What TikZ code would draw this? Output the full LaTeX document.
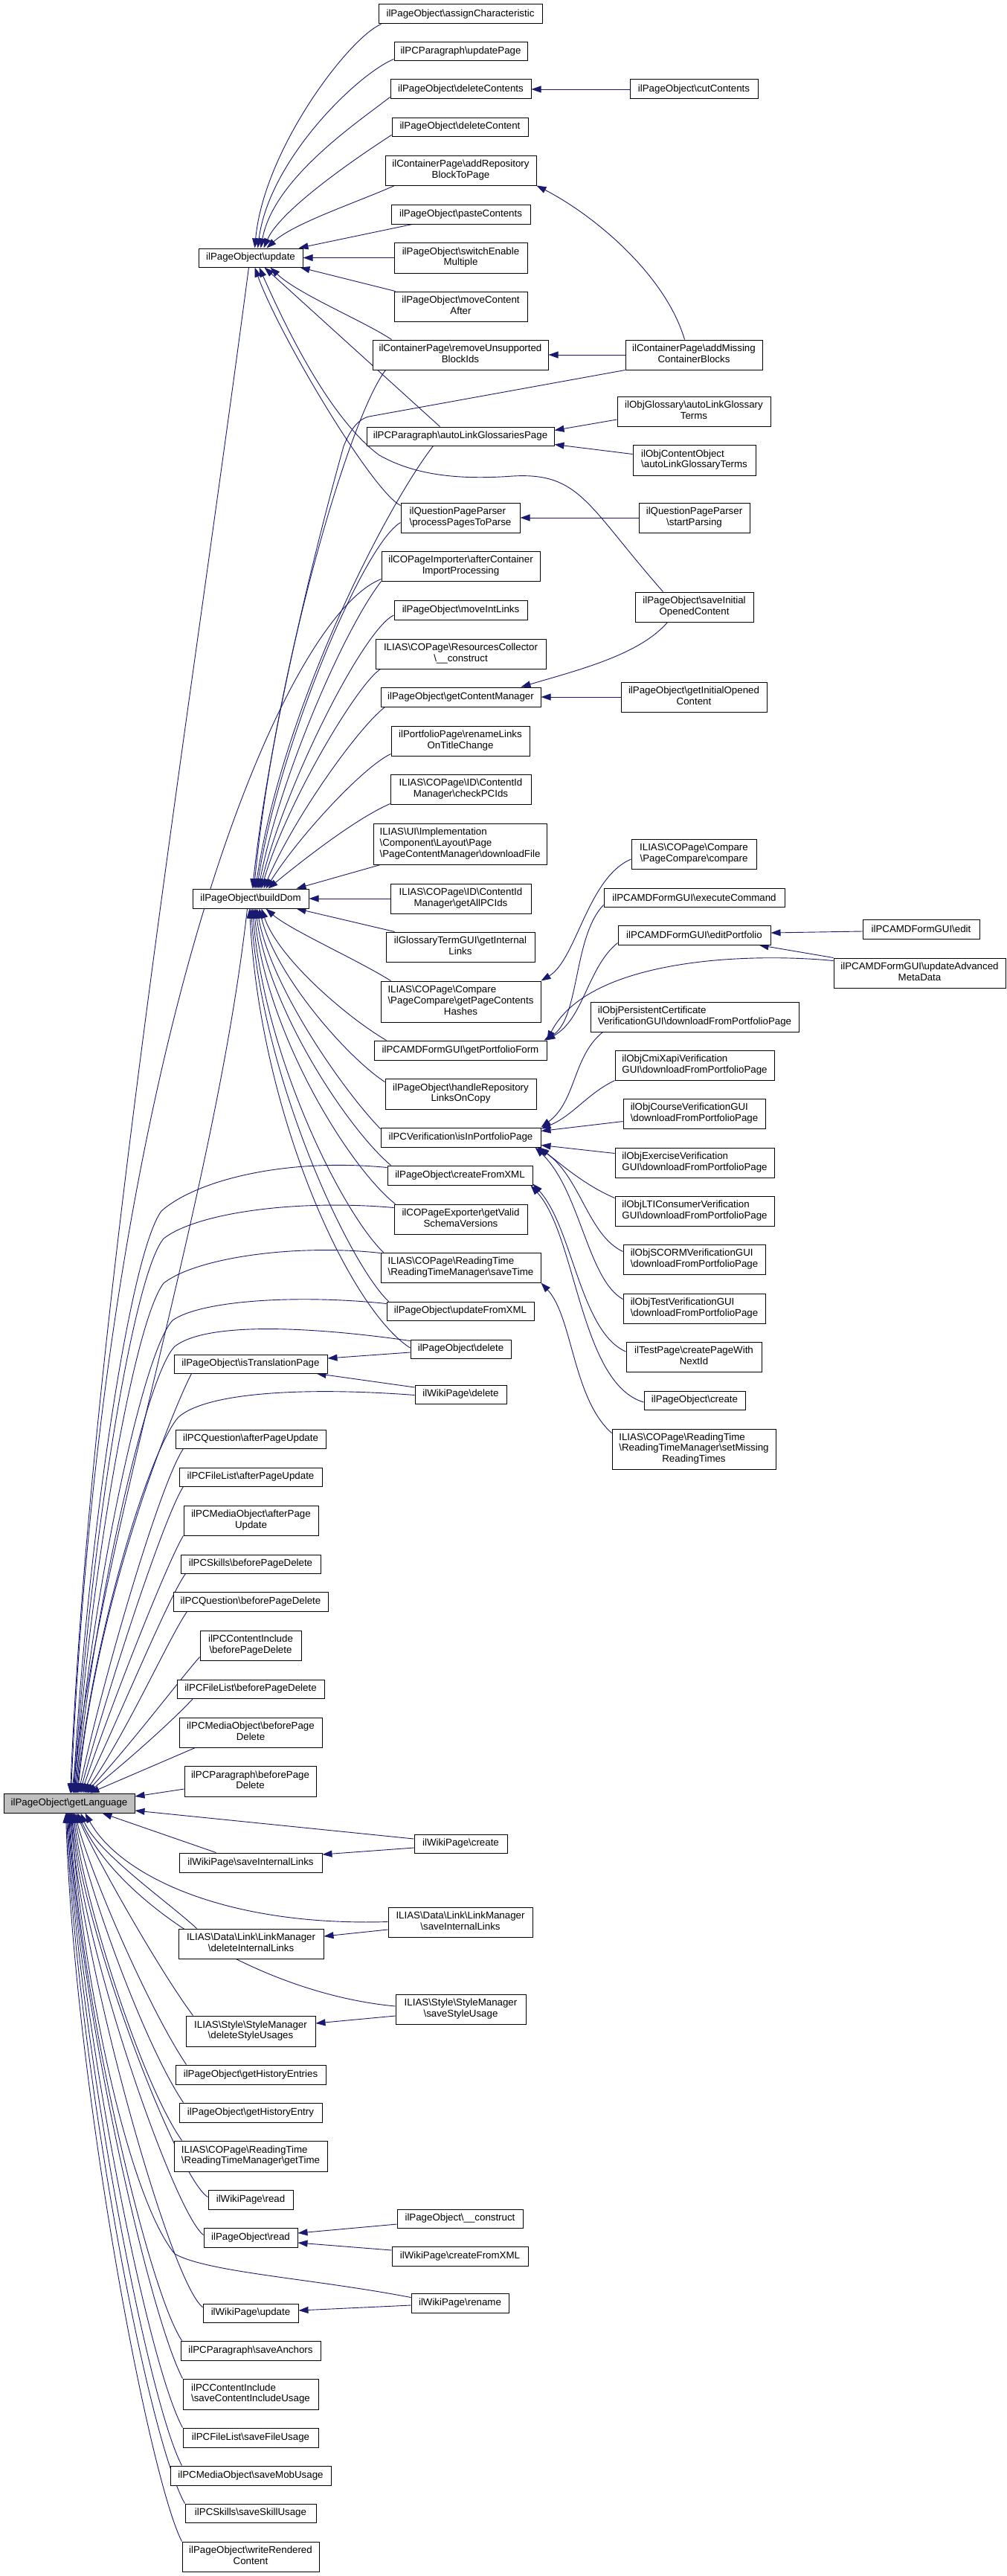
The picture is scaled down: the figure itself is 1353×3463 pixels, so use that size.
\documentclass[tikz,border=0pt]{standalone}
\usepackage{fontspec}
\setmainfont{Liberation Sans}
\usetikzlibrary{arrows.meta}
\pgfdeclarelayer{bg}
\pgfsetlayers{bg,main}
\definecolor{edgecol}{HTML}{191970}
\definecolor{rootfill}{HTML}{BFBFBF}
\newcommand\bsl{\textbackslash}
\newcommand\twol[2]{\begin{tabular}{@{}l@{}}#1\\\multicolumn{1}{@{}c@{}}{#2}\end{tabular}}
\newcommand\threel[3]{\begin{tabular}{@{}l@{}}#1\\#2\\\multicolumn{1}{@{}c@{}}{#3}\end{tabular}}
\newcommand\N[7][]{\node[box,#1,minimum width={#4-#3},minimum height={#6-#5}] (#2) at ({(#3+#4)/2},{(#5+#6)/2}) {#7};}
\tikzset{
  box/.style={draw=black,fill=white,line width=1pt,inner sep=0pt,font=\fontsize{13.3}{14.7}\selectfont},
  root/.style={fill=rootfill},
  e/.style={draw=edgecol,line width=0.9pt,-{Triangle[length=13pt,width=9pt]}}
}
\begin{document}
\begin{tikzpicture}[x=1pt,y=-1pt]
\begin{pgfonlayer}{bg}
\fill[white] (0,0) rectangle (1353,3463);
\end{pgfonlayer}
\useasboundingbox (0,0) rectangle (1353,3463);
\N{ac}{509}{729}{6}{32}{ilPageObject\bsl{}assignCharacteristic}
\N{pup}{530}{709}{57}{82}{ilPCParagraph\bsl{}updatePage}
\N{dcs}{525}{714}{107}{133}{ilPageObject\bsl{}deleteContents}
\N{cut}{847}{1019}{107}{133}{ilPageObject\bsl{}cutContents}
\N{dc}{527}{710}{158}{183}{ilPageObject\bsl{}deleteContent}
\N{arb}{518}{721}{209}{249}{\twol{ilContainerPage\bsl{}addRepository}{BlockToPage}}
\N{pc}{526}{713}{275}{301}{ilPageObject\bsl{}pasteContents}
\N{upd}{267}{407}{334}{359}{ilPageObject\bsl{}update}
\N{sem}{530}{709}{326}{367}{\twol{ilPageObject\bsl{}switchEnable}{Multiple}}
\N{mca}{530}{709}{392}{432}{\twol{ilPageObject\bsl{}moveContent}{After}}
\N{rub}{501}{737}{457}{497}{\twol{ilContainerPage\bsl{}removeUnsupported}{BlockIds}}
\N{amcb}{841}{1025}{457}{497}{\twol{ilContainerPage\bsl{}addMissing}{ContainerBlocks}}
\N{ogalt}{830}{1036}{533}{573}{\twol{ilObjGlossary\bsl{}autoLinkGlossary}{Terms}}
\N{algp}{493}{745}{574}{599}{ilPCParagraph\bsl{}autoLinkGlossariesPage}
\N{ocalt}{851}{1016}{598}{639}{\twol{ilObjContentObject}{\bsl{}autoLinkGlossaryTerms}}
\N{pptp}{539}{699}{676}{716}{\twol{ilQuestionPageParser}{\bsl{}processPagesToParse}}
\N{sp}{859}{1008}{676}{716}{\twol{ilQuestionPageParser}{\bsl{}startParsing}}
\N{acip}{513}{726}{741}{781}{\twol{ilCOPageImporter\bsl{}afterContainer}{ImportProcessing}}
\N{sioc}{854}{1013}{796}{836}{\twol{ilPageObject\bsl{}saveInitial}{OpenedContent}}
\N{mil}{530}{709}{807}{833}{ilPageObject\bsl{}moveIntLinks}
\N{rc}{505}{734}{859}{899}{\twol{ILIAS\bsl{}COPage\bsl{}ResourcesCollector}{\bsl{}\_\_construct}}
\N{gcm}{512}{727}{924}{950}{ilPageObject\bsl{}getContentManager}
\N{gioc}{835}{1031}{917}{957}{\twol{ilPageObject\bsl{}getInitialOpened}{Content}}
\N{rlot}{526}{712}{976}{1016}{\twol{ilPortfolioPage\bsl{}renameLinks}{OnTitleChange}}
\N{cpci}{525}{714}{1041}{1081}{\twol{ILIAS\bsl{}COPage\bsl{}ID\bsl{}ContentId}{Manager\bsl{}checkPCIds}}
\N{dlf}{502}{735}{1107}{1162}{\threel{ILIAS\bsl{}UI\bsl{}Implementation}{\bsl{}Component\bsl{}Layout\bsl{}Page}{\bsl{}PageContentManager\bsl{}downloadFile}}
\N{pcc}{849}{1017}{1128}{1168}{\twol{ILIAS\bsl{}COPage\bsl{}Compare}{\bsl{}PageCompare\bsl{}compare}}
\N{bdom}{259}{415}{1195}{1221}{ilPageObject\bsl{}buildDom}
\N{gail}{525}{714}{1188}{1228}{\twol{ILIAS\bsl{}COPage\bsl{}ID\bsl{}ContentId}{Manager\bsl{}getAllPCIds}}
\N{exc}{812}{1055}{1194}{1219}{ilPCAMDFormGUI\bsl{}executeCommand}
\N{aedit}{1160}{1317}{1236}{1262}{ilPCAMDFormGUI\bsl{}edit}
\N{edp}{831}{1036}{1244}{1270}{ilPCAMDFormGUI\bsl{}editPortfolio}
\N{gil}{519}{719}{1253}{1293}{\twol{ilGlossaryTermGUI\bsl{}getInternal}{Links}}
\N{uamd}{1121}{1352}{1288}{1328}{\twol{ilPCAMDFormGUI\bsl{}updateAdvanced}{MetaData}}
\N{gpch}{512}{727}{1319}{1374}{\threel{ILIAS\bsl{}COPage\bsl{}Compare}{\bsl{}PageCompare\bsl{}getPageContents}{Hashes}}
\N{opc}{794}{1074}{1347}{1387}{\twol{ilObjPersistentCertificate}{VerificationGUI\bsl{}downloadFromPortfolioPage}}
\N{gpf}{503}{735}{1399}{1425}{ilPCAMDFormGUI\bsl{}getPortfolioForm}
\N{ocx}{827}{1041}{1412}{1452}{\twol{ilObjCmiXapiVerification}{GUI\bsl{}downloadFromPortfolioPage}}
\N{hrl}{518}{721}{1450}{1491}{\twol{ilPageObject\bsl{}handleRepository}{LinksOnCopy}}
\N{ocv}{838}{1029}{1477}{1517}{\twol{ilObjCourseVerificationGUI}{\bsl{}downloadFromPortfolioPage}}
\N{iipp}{512}{727}{1516}{1542}{ilPCVerification\bsl{}isInPortfolioPage}
\N{oev}{827}{1041}{1543}{1583}{\twol{ilObjExerciseVerification}{GUI\bsl{}downloadFromPortfolioPage}}
\N{cfx}{521}{716}{1567}{1593}{ilPageObject\bsl{}createFromXML}
\N{olv}{827}{1041}{1608}{1648}{\twol{ilObjLTIConsumerVerification}{GUI\bsl{}downloadFromPortfolioPage}}
\N{gvsv}{530}{709}{1619}{1659}{\twol{ilCOPageExporter\bsl{}getValid}{SchemaVersions}}
\N{osv}{838}{1029}{1673}{1713}{\twol{ilObjSCORMVerificationGUI}{\bsl{}downloadFromPortfolioPage}}
\N{stime}{512}{727}{1684}{1724}{\twol{ILIAS\bsl{}COPage\bsl{}ReadingTime}{\bsl{}ReadingTimeManager\bsl{}saveTime}}
\N{otv}{838}{1029}{1739}{1779}{\twol{ilObjTestVerificationGUI}{\bsl{}downloadFromPortfolioPage}}
\N{ufx}{520}{718}{1750}{1775}{ilPageObject\bsl{}updateFromXML}
\N{pdel}{552}{687}{1801}{1826}{ilPageObject\bsl{}delete}
\N{tpn}{842}{1024}{1804}{1844}{\twol{ilTestPage\bsl{}createPageWith}{NextId}}
\N{istr}{234}{440}{1821}{1846}{ilPageObject\bsl{}isTranslationPage}
\N{wdel}{558}{681}{1862}{1887}{ilWikiPage\bsl{}delete}
\N{pcr}{866}{1002}{1870}{1895}{ilPageObject\bsl{}create}
\N{smrt}{823}{1043}{1921}{1975}{\threel{ILIAS\bsl{}COPage\bsl{}ReadingTime}{\bsl{}ReadingTimeManager\bsl{}setMissing}{ReadingTimes}}
\N{qapu}{236}{438}{1922}{1947}{ilPCQuestion\bsl{}afterPageUpdate}
\N{flapu}{241}{433}{1973}{1998}{ilPCFileList\bsl{}afterPageUpdate}
\N{mapu}{247}{428}{2024}{2064}{\twol{ilPCMediaObject\bsl{}afterPage}{Update}}
\N{sbpd}{243}{431}{2090}{2115}{ilPCSkills\bsl{}beforePageDelete}
\N{qbpd}{233}{441}{2140}{2166}{ilPCQuestion\bsl{}beforePageDelete}
\N{cibpd}{269}{405}{2192}{2232}{\twol{ilPCContentInclude}{\bsl{}beforePageDelete}}
\N{flbpd}{238}{436}{2258}{2283}{ilPCFileList\bsl{}beforePageDelete}
\N{mbpd}{241}{433}{2309}{2349}{\twol{ilPCMediaObject\bsl{}beforePage}{Delete}}
\N{pbpd}{248}{425}{2374}{2415}{\twol{ilPCParagraph\bsl{}beforePage}{Delete}}
\N[root]{lang}{5}{181}{2411}{2437}{ilPageObject\bsl{}getLanguage}
\N{wcr}{557}{682}{2466}{2491}{ilWikiPage\bsl{}create}
\N{wsil}{241}{433}{2491}{2517}{ilWikiPage\bsl{}saveInternalLinks}
\N{lsil}{522}{716}{2564}{2604}{\twol{ILIAS\bsl{}Data\bsl{}Link\bsl{}LinkManager}{\bsl{}saveInternalLinks}}
\N{ldil}{240}{435}{2593}{2633}{\twol{ILIAS\bsl{}Data\bsl{}Link\bsl{}LinkManager}{\bsl{}deleteInternalLinks}}
\N{ssu2}{532}{707}{2681}{2721}{\twol{ILIAS\bsl{}Style\bsl{}StyleManager}{\bsl{}saveStyleUsage}}
\N{sdsu}{250}{424}{2710}{2751}{\twol{ILIAS\bsl{}Style\bsl{}StyleManager}{\bsl{}deleteStyleUsages}}
\N{ghe}{236}{438}{2776}{2802}{ilPageObject\bsl{}getHistoryEntries}
\N{ghy}{241}{433}{2827}{2853}{ilPageObject\bsl{}getHistoryEntry}
\N{gtime}{234}{440}{2878}{2919}{\twol{ILIAS\bsl{}COPage\bsl{}ReadingTime}{\bsl{}ReadingTimeManager\bsl{}getTime}}
\N{wread}{280}{394}{2944}{2970}{ilWikiPage\bsl{}read}
\N{pcons}{534}{703}{2970}{2995}{ilPageObject\bsl{}\_\_construct}
\N{pread}{274}{400}{2995}{3021}{ilPageObject\bsl{}read}
\N{wcfx}{527}{710}{3020}{3046}{ilWikiPage\bsl{}createFromXML}
\N{wren}{553}{684}{3083}{3109}{ilWikiPage\bsl{}rename}
\N{wupd}{273}{401}{3097}{3122}{ilWikiPage\bsl{}update}
\N{sanch}{243}{431}{3147}{3173}{ilPCParagraph\bsl{}saveAnchors}
\N{sciu}{246}{428}{3198}{3239}{\twol{ilPCContentInclude}{\bsl{}saveContentIncludeUsage}}
\N{sfu}{246}{428}{3264}{3290}{ilPCFileList\bsl{}saveFileUsage}
\N{smu}{229}{445}{3315}{3341}{ilPCMediaObject\bsl{}saveMobUsage}
\N{ssu}{249}{425}{3366}{3391}{ilPCSkills\bsl{}saveSkillUsage}
\N{wrc}{245}{429}{3417}{3457}{\twol{ilPageObject\bsl{}writeRendered}{Content}}
\begin{pgfonlayer}{bg}
% --- callers of update
\draw[e] ([xshift=4pt]ac.south west) .. controls (470,50) and (355,200) .. ([xshift=76pt]upd.north west);
\draw[e] ([yshift=3pt]pup.south west) .. controls (480,100) and (362,215) .. ([xshift=80pt]upd.north west);
\draw[e] ([yshift=3pt]dcs.south west) .. controls (480,165) and (368,240) .. ([xshift=84pt]upd.north west);
\draw[e] ([yshift=2pt]dc.south west) .. controls (490,205) and (378,280) .. ([xshift=88pt]upd.north west);
\draw[e] ([xshift=13pt]arb.south west) .. controls (480,272) and (395,300) .. ([xshift=92pt]upd.north west);
\draw[e] ([xshift=29pt]pc.south west) -- ([xshift=-6pt]upd.north east);
\draw[e] (sem.west) -- (upd.east);
\draw[e] ([xshift=2pt]mca.north west) -- ([xshift=-4pt]upd.south east);
\draw[e] ([xshift=26pt]rub.north west) .. controls (490,432) and (400,395) .. ([xshift=97pt]upd.south west);
\draw[e] ([xshift=99pt]algp.north west) -- ([xshift=89pt]upd.south west);
\draw[e] ([yshift=-4pt]pptp.north west) .. controls (500,660) and (375,450) .. ([xshift=76pt]upd.south west);
\draw[e] ([xshift=38pt]sioc.north west) .. controls (790,680) and (780,635) .. (690,640) .. controls (620,645) and (560,640) .. (510,612) .. controls (440,560) and (380,430) .. ([xshift=82pt]upd.south west);
% --- column D
\draw[e] (cut.west) -- (dcs.east);
\draw[e] ([xshift=80pt]amcb.north west) .. controls (895,370) and (800,290) .. (arb.south east);
\draw[e] (amcb.west) -- (rub.east);
\draw[e] ([yshift=-11pt]ogalt.west) -- ([yshift=8pt]algp.east);
\draw[e] ([yshift=8pt]ocalt.west) -- ([yshift=-11pt]algp.east);
\draw[e] (sp.west) -- (pptp.east);
\draw[e] ([xshift=44pt]sioc.south west) .. controls (860,880) and (780,900) .. ([xshift=-27pt]gcm.north east);
\draw[e] (gioc.west) -- (gcm.east);
% --- callers of buildDom from above
\draw[e] (amcb.south west) -- (496,560) .. controls (480,564) and (470,580) .. (462,600) .. controls (420,750) and (360,1000) .. ([xshift=81pt]bdom.north west);
\draw[e] ([xshift=18pt]rub.south west) .. controls (470,560) and (370,900) .. ([xshift=83pt]bdom.north west);
\draw[e] ([xshift=90pt]algp.south west) .. controls (520,680) and (380,950) .. ([xshift=85pt]bdom.north west);
\draw[e] ([yshift=-6.5pt]pptp.west) .. controls (490,730) and (375,1000) .. ([xshift=87pt]bdom.north west);
\draw[e] (acip.south west) .. controls (460,850) and (375,1050) .. ([xshift=89pt]bdom.north west);
\draw[e] ([yshift=-7pt]mil.west) .. controls (490,845) and (385,1050) .. ([xshift=91pt]bdom.north west);
\draw[e] ([xshift=7pt]rc.south west) .. controls (480,920) and (385,1080) .. ([xshift=93pt]bdom.north west);
\draw[e] ([xshift=6pt]gcm.south west) .. controls (480,980) and (395,1100) .. ([xshift=96pt]bdom.north west);
\draw[e] ([yshift=3pt]rlot.south west) .. controls (490,1030) and (405,1120) .. ([xshift=99pt]bdom.north west);
\draw[e] ([yshift=1pt]cpci.south west) .. controls (480,1100) and (415,1150) .. ([xshift=102pt]bdom.north west);
\draw[e] ([xshift=10pt]dlf.south west) -- ([xshift=140pt]bdom.north west);
\draw[e] (gail.west) -- (bdom.east);
% --- callers of buildDom from below
\draw[e] ([xshift=12pt]gil.north west) -- ([xshift=140pt]bdom.south west);
\draw[e] ([xshift=14pt]gpch.north west) .. controls (480,1290) and (390,1250) .. ([xshift=99pt]bdom.south west);
\draw[e] ([xshift=17pt]gpf.north west) .. controls (470,1370) and (375,1290) .. ([xshift=93pt]bdom.south west);
\draw[e] ([yshift=-5pt]hrl.north west) .. controls (465,1420) and (370,1310) .. ([xshift=90pt]bdom.south west);
\draw[e] ([yshift=-2pt]iipp.north west) .. controls (465,1470) and (365,1330) .. ([xshift=87pt]bdom.south west);
\draw[e] ([xshift=5pt]cfx.north west) .. controls (470,1520) and (362,1360) .. ([xshift=85pt]bdom.south west);
\draw[e] ([xshift=2pt]gvsv.north west) .. controls (470,1570) and (358,1390) .. ([xshift=83pt]bdom.south west);
\draw[e] ([xshift=4pt]stime.north west) .. controls (460,1630) and (355,1420) .. ([xshift=81pt]bdom.south west);
\draw[e] ([xshift=3pt]ufx.north west) .. controls (470,1700) and (352,1450) .. ([xshift=79pt]bdom.south west);
\draw[e] ([yshift=1.5pt]pdel.west) .. controls (470,1760) and (350,1500) .. ([xshift=77pt]bdom.south west);
% --- column D to buildDom-area nodes
\draw[e] ([yshift=-7pt]pcc.west) .. controls (790,1180) and (775,1290) .. (gpch.north east);
\draw[e] ([yshift=3pt]exc.south west) .. controls (770,1260) and (780,1370) .. ([xshift=-4pt]gpf.north east);
\draw[e] ([yshift=3pt]edp.south west) .. controls (790,1300) and (785,1370) .. ([xshift=-2pt]gpf.north east);
\draw[e] ([yshift=-4pt]uamd.north west) .. controls (1000,1280) and (790,1290) .. (gpf.north east);
\draw[e] ([yshift=-3pt]aedit.west) -- ([yshift=3pt]edp.east);
\draw[e] (uamd.north west) -- ([xshift=-16pt]edp.south east);
\draw[e] ([xshift=17pt]opc.south west) .. controls (770,1420) and (775,1480) .. (iipp.north east);
\draw[e] (ocx.south west) .. controls (790,1470) and (770,1500) .. ([yshift=-2pt]iipp.north east);
\draw[e] ([yshift=10pt]ocv.south west) -- ([yshift=-5pt]iipp.north east);
\draw[e] ([yshift=-8pt]oev.north west) -- ([yshift=3pt]iipp.south east);
\draw[e] ([yshift=-3pt]olv.north west) .. controls (790,1595) and (760,1570) .. ([xshift=-2pt]iipp.south east);
\draw[e] ([yshift=-10pt]osv.north west) .. controls (790,1660) and (780,1580) .. ([xshift=-5pt]iipp.south east);
\draw[e] ([yshift=-8pt]otv.north west) .. controls (790,1720) and (780,1600) .. ([xshift=-8pt]iipp.south east);
\draw[e] ([yshift=7pt]tpn.west) .. controls (780,1790) and (770,1650) .. ([yshift=2pt]cfx.south east);
\draw[e] ([yshift=-2.5pt]pcr.west) .. controls (780,1860) and (775,1660) .. ([xshift=-3pt]cfx.south east);
\draw[e] ([yshift=-6pt]smrt.north west) .. controls (770,1880) and (770,1770) .. (stime.south east);
\draw[e] ([yshift=-4.5pt]pdel.west) -- ([yshift=7.5pt]istr.east);
\draw[e] ([yshift=9.5pt]wdel.west) -- ([xshift=-15pt]istr.south east);
% --- callers of getLanguage from above
\draw[e] ([xshift=68pt]upd.south west) .. controls (250,1000) and (120,1800) .. ([xshift=90pt]lang.north west);
\draw[e] ([xshift=74pt]bdom.south west) .. controls (290,1600) and (140,2050) .. ([xshift=92pt]lang.north west);
\draw[e] ([yshift=3pt]acip.south west) .. controls (380,830) and (140,1400) .. ([xshift=91pt]lang.north west);
\draw[e] ([yshift=-3pt]cfx.north west) .. controls (380,1556) and (262,1588) .. (217,1628) .. controls (172,1690) and (115,2100) .. ([xshift=94pt]lang.north west);
\draw[e] ([yshift=-5pt]gvsv.north west) .. controls (400,1612) and (265,1630) .. (220,1665) .. controls (175,1720) and (117,2120) .. ([xshift=95pt]lang.north west);
\draw[e] ([yshift=-1pt]stime.north west) .. controls (400,1672) and (265,1690) .. (220,1725) .. controls (178,1780) and (119,2140) .. ([xshift=96pt]lang.north west);
\draw[e] ([yshift=-3pt]ufx.north west) .. controls (400,1740) and (270,1748) .. (232,1775) .. controls (190,1820) and (121,2160) .. ([xshift=97pt]lang.north west);
\draw[e] ([yshift=11pt]pdel.west) .. controls (430,1785) and (280,1775) .. (235,1810) .. controls (195,1850) and (123,2180) .. ([xshift=98pt]lang.north west);
\draw[e] ([yshift=-1pt]wdel.west) .. controls (420,1865) and (280,1870) .. (240,1905) .. controls (200,1950) and (125,2200) .. ([xshift=99pt]lang.north west);
\draw[e] ([xshift=24pt]istr.south west) .. controls (230,1900) and (130,2150) .. ([xshift=100pt]lang.north west);
\draw[e] ([xshift=11pt]qapu.south west) .. controls (215,1995) and (140,2250) .. ([xshift=101pt]lang.north west);
\draw[e] ([xshift=6pt]flapu.south west) .. controls (220,2040) and (145,2270) .. ([xshift=103pt]lang.north west);
\draw[e] (mapu.south west) .. controls (225,2100) and (150,2290) .. ([xshift=105pt]lang.north west);
\draw[e] ([xshift=7pt]sbpd.south west) .. controls (225,2150) and (160,2310) .. ([xshift=107pt]lang.north west);
\draw[e] ([xshift=19pt]qbpd.south west) .. controls (228,2200) and (170,2330) .. ([xshift=109pt]lang.north west);
\draw[e] ([yshift=5pt]cibpd.south west) .. controls (240,2260) and (180,2340) .. ([xshift=111pt]lang.north west);
\draw[e] ([xshift=22pt]flbpd.south west) .. controls (235,2310) and (180,2360) .. ([xshift=113pt]lang.north west);
\draw[e] ([xshift=22pt]mbpd.south west) -- ([xshift=116pt]lang.north west);
\draw[e] ([yshift=-10.5pt]pbpd.west) -- ([yshift=9pt]lang.east);
\draw[e] ([yshift=6.5pt]wcr.west) -- ([yshift=-10pt]lang.east);
% --- callers of getLanguage from below
\draw[e] ([yshift=-5.5pt]wcr.west) -- ([yshift=11pt]wsil.east);
\draw[e] ([xshift=50pt]wsil.north west) -- ([xshift=133pt]lang.south west);
\draw[e] ([yshift=0.5pt]lsil.west) .. controls (300,2590) and (160,2520) .. ([xshift=110pt]lang.south west);
\draw[e] ([yshift=-10pt]lsil.west) -- ([yshift=10pt]ldil.east);
\draw[e] ([xshift=25pt]ldil.north west) .. controls (230,2560) and (130,2490) .. ([xshift=104pt]lang.south west);
\draw[e] ([yshift=4pt]ssu2.west) .. controls (350,2680) and (160,2560) .. ([xshift=100pt]lang.south west);
\draw[e] ([yshift=-9pt]ssu2.west) -- ([yshift=10.5pt]sdsu.east);
\draw[e] ([xshift=10pt]sdsu.north west) .. controls (215,2650) and (130,2500) .. ([xshift=98pt]lang.south west);
\draw[e] ([xshift=15pt]ghe.north west) .. controls (200,2700) and (122,2520) .. ([xshift=96pt]lang.south west);
\draw[e] ([xshift=6pt]ghy.north west) .. controls (195,2750) and (118,2540) .. ([xshift=95pt]lang.south west);
\draw[e] ([xshift=11pt]gtime.north west) .. controls (190,2800) and (114,2560) .. ([xshift=94pt]lang.south west);
\draw[e] ([yshift=-10pt]wread.north west) .. controls (240,2930) and (112,2600) .. ([xshift=93pt]lang.south west);
\draw[e] ([yshift=-10pt]pread.north west) .. controls (235,2975) and (110,2620) .. ([xshift=92pt]lang.south west);
\draw[e] ([yshift=-7.5pt]pcons.west) -- ([yshift=6pt]pread.east);
\draw[e] ([yshift=8pt]wcfx.west) -- ([yshift=-7pt]pread.east);
\draw[e] ([yshift=7.5pt]wren.west) .. controls (420,3063) and (280,3055) .. (235,3030) .. controls (170,2950) and (110,2650) .. ([xshift=91pt]lang.south west);
\draw[e] ([yshift=-3pt]wren.west) -- ([yshift=3.5pt]wupd.east);
\draw[e] ([yshift=-5pt]wupd.north west) .. controls (230,3070) and (112,2650) .. ([xshift=90pt]lang.south west);
\draw[e] ([xshift=2pt]sanch.north west) .. controls (200,3080) and (110,2700) .. ([xshift=89pt]lang.south west);
\draw[e] (sciu.north west) .. controls (200,3110) and (108,2700) .. ([xshift=88pt]lang.south west);
\draw[e] (sfu.north west) .. controls (195,3170) and (106,2700) .. ([xshift=87pt]lang.south west);
\draw[e] ([xshift=16pt]smu.north west) .. controls (195,3220) and (104,2720) .. ([xshift=86pt]lang.south west);
\draw[e] (ssu.north west) .. controls (195,3270) and (102,2750) .. ([xshift=85pt]lang.south west);
\draw[e] (wrc.north west) .. controls (200,3330) and (100,2800) .. ([xshift=84pt]lang.south west);
\end{pgfonlayer}
\end{tikzpicture}
\end{document}
